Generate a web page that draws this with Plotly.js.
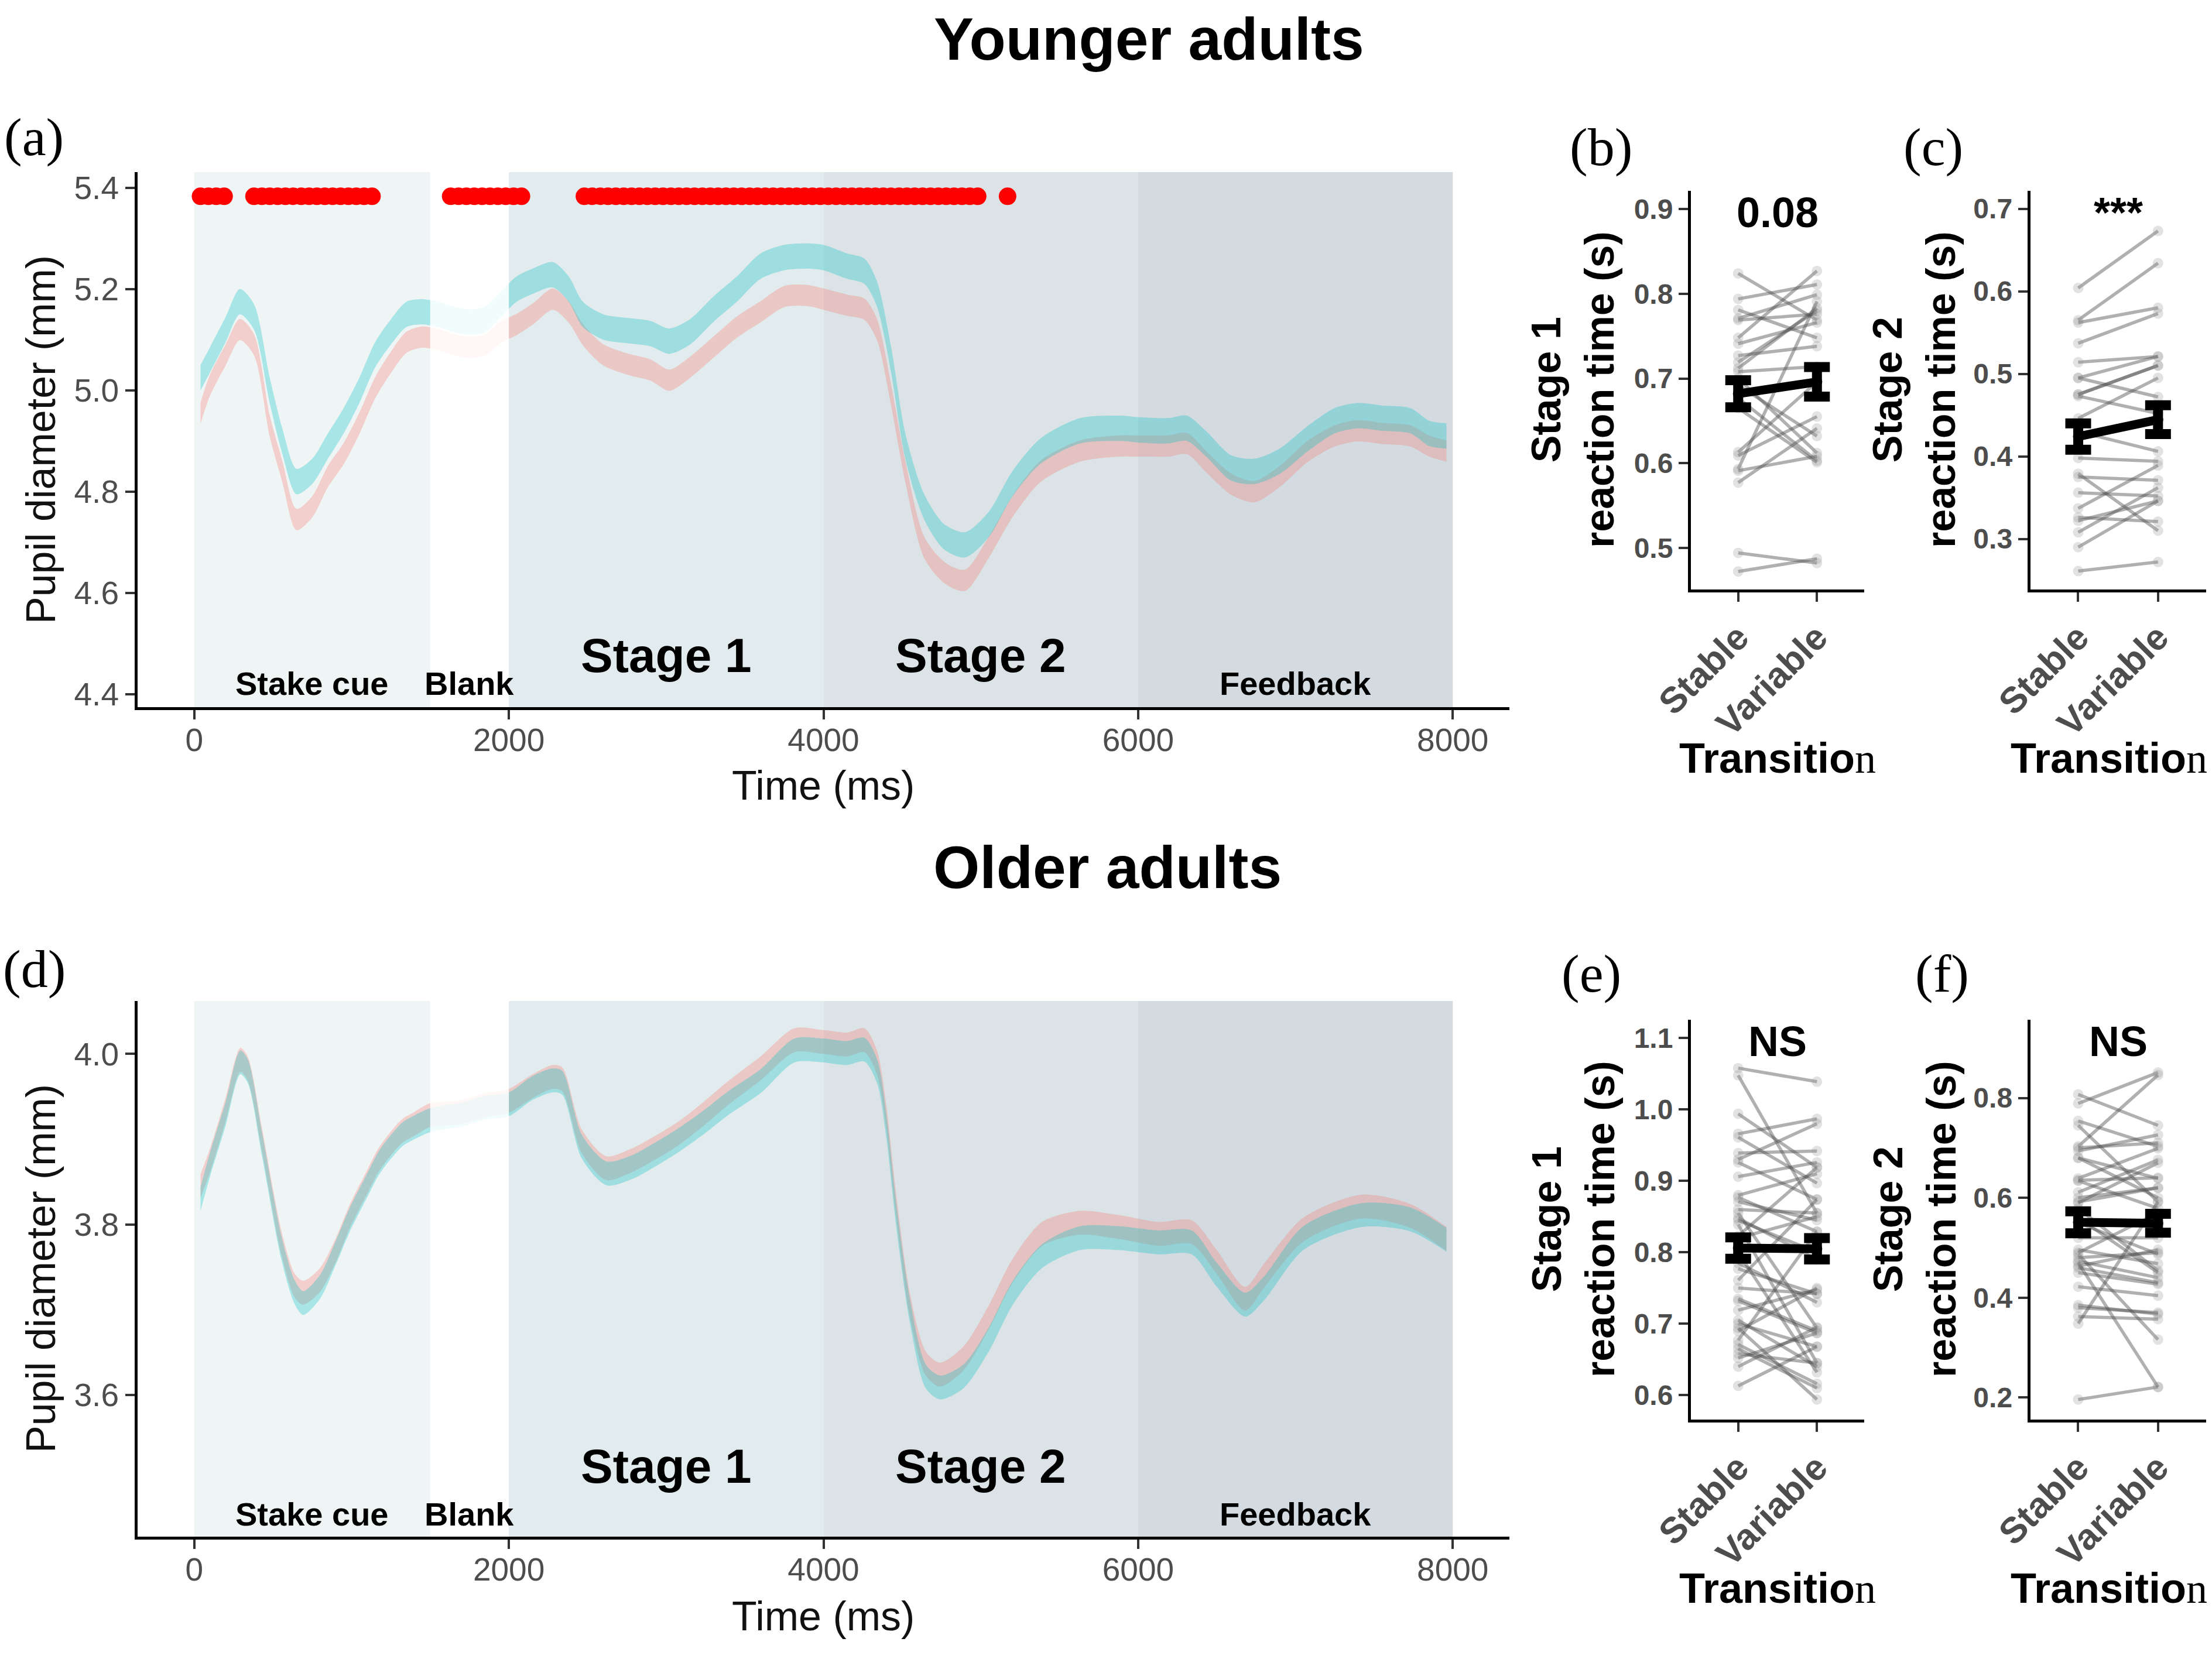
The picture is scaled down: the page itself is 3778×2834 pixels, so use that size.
<!DOCTYPE html>
<html><head><meta charset="utf-8">
<script src="https://cdn.plot.ly/plotly-3.0.1.min.js"></script>
<style>html,body{margin:0;padding:0;background:#fff;} #plot{width:3778px;height:2834px;}</style>
</head><body><div id="plot"></div>
<script>
// ================= DATA =================
// Panel (a) Younger adults: pupil diameter (mm) over time (ms)
const timeA = [40,100,200,290,380,480,560,650,750,850,950,1050,1150,1250,1350,1450,1550,1650,1750,1850,1950,2050,2150,2280,2380,2470,2600,2750,2900,3020,3150,3300,3450,3600,3750,3900,4000,4150,4260,4340,4430,4520,4640,4770,4900,5050,5200,5380,5630,5880,6000,6190,6310,6430,6590,6740,6900,7080,7250,7390,7550,7730,7850,7960];
const stableA = [4.955,5.01,5.07,5.12,5.09,4.93,4.84,4.745,4.77,4.83,4.875,4.935,5.005,5.055,5.095,5.105,5.10,5.09,5.085,5.09,5.115,5.13,5.15,5.18,5.155,5.11,5.07,5.052,5.04,5.02,5.045,5.085,5.125,5.155,5.185,5.187,5.18,5.168,5.16,5.12,4.99,4.84,4.69,4.64,4.625,4.69,4.77,4.84,4.88,4.89,4.89,4.89,4.895,4.86,4.815,4.80,4.83,4.88,4.91,4.92,4.915,4.91,4.89,4.88];
const variableA = [5.025,5.06,5.12,5.175,5.145,5.00,4.90,4.82,4.84,4.89,4.94,5.00,5.07,5.115,5.15,5.155,5.15,5.14,5.135,5.14,5.17,5.20,5.215,5.228,5.20,5.15,5.125,5.118,5.112,5.097,5.115,5.16,5.20,5.245,5.262,5.265,5.262,5.245,5.235,5.19,5.06,4.89,4.77,4.71,4.695,4.735,4.815,4.88,4.92,4.925,4.922,4.92,4.925,4.895,4.847,4.84,4.86,4.905,4.94,4.95,4.945,4.94,4.915,4.91];
const ciStableA = 0.021;
const ciVariableA = 0.025;
// significant time points (ms), panel (a)
const sigTimesA = [40,90,140,190,
  380,430,480,530,580,630,680,730,780,830,880,930,980,1030,1080,1130,
  1630,1680,1730,1780,1830,1880,1930,1980,2030,2080,
  2480,2530,2580,2630,2680,2730,2780,2830,2880,2930,2980,3030,3080,3130,3180,3230,3280,3330,3380,3430,3480,3530,3580,3630,3680,3730,3780,3830,3880,3930,3980,4030,4080,4130,4180,4230,4280,4330,4380,4430,4480,4530,4580,4630,4680,4730,4780,4830,4880,4930,4980,
  5170];
const sigLevelA = 5.383;

// Panel (d) Older adults
const timeD = [40,100,200,293,340,430,555,640,693,800,900,990,1100,1170,1250,1325,1400,1495,1600,1700,1850,2000,2150,2280,2340,2465,2620,2780,2930,3080,3240,3400,3600,3815,4000,4150,4260,4340,4400,4460,4550,4650,4740,4890,5050,5200,5390,5630,5880,6130,6340,6500,6680,6800,7050,7420,7730,7960];
const stableD = [3.845,3.875,3.935,3.993,3.983,3.90,3.778,3.728,3.72,3.735,3.77,3.81,3.85,3.875,3.895,3.91,3.918,3.928,3.93,3.932,3.94,3.945,3.962,3.973,3.97,3.897,3.866,3.875,3.89,3.907,3.93,3.955,3.983,4.016,4.014,4.011,4.016,3.99,3.925,3.825,3.705,3.637,3.624,3.643,3.691,3.745,3.789,3.802,3.797,3.789,3.791,3.756,3.713,3.74,3.794,3.821,3.81,3.783];
const variableD = [3.83,3.87,3.93,3.99,3.98,3.895,3.772,3.72,3.708,3.727,3.767,3.806,3.846,3.871,3.891,3.906,3.914,3.922,3.926,3.929,3.937,3.941,3.96,3.969,3.966,3.891,3.86,3.867,3.882,3.899,3.92,3.943,3.968,4.004,4.004,4.001,4.005,3.98,3.915,3.815,3.698,3.622,3.609,3.622,3.665,3.719,3.763,3.784,3.784,3.779,3.779,3.741,3.706,3.725,3.784,3.811,3.806,3.782];
const ciStableD = 0.014;
const ciVariableD = 0.014;

// Trial phases
const phaseNames = ['Stake cue','Blank','Stage 1','Stage 2','Feedback'];
const phaseStart = [0,1500,2000,4000,6000];
const phaseEnd = [1500,2000,4000,6000,8000];
const phaseColors = ['#eff5f5', null, '#e2ebed', '#dbe3e6', '#d3dbe1'];

// Reaction-time panels
const transitions = ['Stable','Variable'];
// (b) younger, stage 1
const rtB_stable   = [0.824,0.794,0.781,0.771,0.769,0.748,0.741,0.727,0.719,0.712,0.708,0.700,0.692,0.677,0.665,0.613,0.609,0.593,0.591,0.577,0.494,0.472];
const rtB_variable = [0.769,0.811,0.748,0.799,0.776,0.827,0.766,0.738,0.780,0.783,0.714,0.612,0.632,0.603,0.601,0.696,0.655,0.791,0.608,0.641,0.482,0.487];
const meanB = [0.682,0.696]; const seB = [0.016,0.0175]; const sigB = '0.08';
// (c) younger, stage 2
const rtC_stable   = [0.604,0.565,0.562,0.537,0.514,0.495,0.475,0.473,0.446,0.430,0.398,0.379,0.375,0.356,0.337,0.326,0.322,0.308,0.290,0.261,0.495,0.475];
const rtC_variable = [0.673,0.634,0.580,0.573,0.521,0.472,0.510,0.452,0.495,0.406,0.394,0.310,0.371,0.352,0.389,0.321,0.346,0.362,0.346,0.272,0.521,0.510];
const meanC = [0.424,0.4445]; const seC = [0.016,0.0175]; const sigC = '***';
// (e) older, stage 1
const rtE_stable   = [1.058,1.048,0.994,0.966,0.961,0.939,0.926,0.906,0.877,0.871,0.855,0.848,0.839,0.823,0.800,0.777,0.761,0.732,0.719,0.700,0.694,0.677,0.671,0.658,0.652,0.613,0.860,0.750,0.880,0.845,0.820,0.785,0.735,0.705,0.690,0.665,0.640,0.930];
const rtE_variable = [1.039,0.855,0.919,0.987,0.897,0.942,0.874,0.926,0.829,0.845,0.694,0.790,0.645,0.919,0.632,0.742,0.874,0.687,0.748,0.668,0.594,0.829,0.616,0.645,0.687,0.668,0.855,0.742,0.910,0.800,0.850,0.730,0.690,0.640,0.750,0.610,0.695,0.980];
const meanE = [0.806,0.805]; const seE = [0.015,0.015]; const sigE = 'NS';
// (f) older, stage 2
const rtF_stable   = [0.807,0.789,0.754,0.745,0.703,0.694,0.680,0.639,0.634,0.611,0.592,0.579,0.550,0.496,0.487,0.473,0.463,0.450,0.422,0.385,0.362,0.348,0.196,0.520,0.600,0.700,0.680,0.635,0.590,0.560,0.490,0.480,0.460,0.380,0.470];
const rtF_variable = [0.745,0.851,0.703,0.592,0.846,0.726,0.639,0.699,0.579,0.676,0.620,0.454,0.487,0.468,0.316,0.440,0.496,0.427,0.404,0.367,0.357,0.592,0.221,0.520,0.620,0.710,0.600,0.640,0.670,0.450,0.570,0.490,0.430,0.370,0.221];
const meanF = [0.551,0.549]; const seF = [0.022,0.019]; const sigF = 'NS';

// ================= BUILD =================
const W = 3778, H = 2834;
const px = v => v / W;          // x pixel -> paper
const py = v => 1 - v / H;      // y pixel (from top) -> paper
const SANS = 'Liberation Sans, Arial, sans-serif';
const SERIF = 'Liberation Serif, Times New Roman, serif';
const PINK = 'rgba(248,118,109,0.3)';
const CYAN = 'rgba(0,191,196,0.3)';

const data = [];
function ribbon(t, m, ci, fill, xa, ya, name) {
  data.push({x: t, y: m.map(v => v - ci), xaxis: xa, yaxis: ya, mode: 'lines',
    line: {width: 0, shape: 'spline', smoothing: 0.8}, hoverinfo: 'skip', showlegend: false});
  data.push({x: t, y: m.map(v => v + ci), xaxis: xa, yaxis: ya, mode: 'lines', name: name,
    line: {width: 0, shape: 'spline', smoothing: 0.8}, fill: 'tonexty', fillcolor: fill, showlegend: false});
}
const rangeA = [4.3746, 5.4307], rangeD = [3.434, 4.062];
function blankVeil(xa, ya, yr) {
  const b = phaseNames.indexOf('Blank');
  data.push({x: [phaseStart[b], phaseEnd[b], phaseEnd[b], phaseStart[b], phaseStart[b]],
    y: [yr[0], yr[0], yr[1], yr[1], yr[0]], xaxis: xa, yaxis: ya, mode: 'lines',
    line: {width: 0}, fill: 'toself', fillcolor: 'rgba(255,255,255,0.82)', hoverinfo: 'skip', showlegend: false});
}
ribbon(timeA, stableA, ciStableA, PINK, 'x', 'y', 'Stable');
ribbon(timeA, variableA, ciVariableA, CYAN, 'x', 'y', 'Variable');
blankVeil('x', 'y', rangeA);
data.push({x: sigTimesA, y: sigTimesA.map(() => sigLevelA), xaxis: 'x', yaxis: 'y', mode: 'markers',
  marker: {size: 30, color: '#ff0000', line: {width: 0}}, showlegend: false});
ribbon(timeD, stableD, ciStableD, PINK, 'x4', 'y4', 'Stable');
ribbon(timeD, variableD, ciVariableD, CYAN, 'x4', 'y4', 'Variable');
blankVeil('x4', 'y4', rangeD);

function rtPanel(s, v, mean, se, xa, ya) {
  for (let i = 0; i < s.length; i++) {
    data.push({x: transitions, y: [s[i], v[i]], xaxis: xa, yaxis: ya, mode: 'lines+markers',
      line: {color: 'rgba(80,80,80,0.45)', width: 5.5},
      marker: {size: 18, color: 'rgba(150,150,150,0.28)', line: {width: 0}}, showlegend: false});
  }
  data.push({x: transitions, y: mean, xaxis: xa, yaxis: ya, mode: 'lines+markers',
    line: {color: '#000', width: 15}, marker: {size: 18, color: '#000'},
    error_y: {type: 'data', array: se, visible: true, color: '#000', thickness: 17, width: 22},
    showlegend: false});
}
rtPanel(rtB_stable, rtB_variable, meanB, seB, 'x2', 'y2');
rtPanel(rtC_stable, rtC_variable, meanC, seC, 'x3', 'y3');
rtPanel(rtE_stable, rtE_variable, meanE, seE, 'x5', 'y5');
rtPanel(rtF_stable, rtF_variable, meanF, seF, 'x6', 'y6');

// ---- layout ----
const axLine = {showline: true, linecolor: '#000', linewidth: 5, ticks: 'outside', ticklen: 16,
  tickwidth: 4, tickcolor: '#333', showgrid: false, zeroline: false, fixedrange: true};
const timeTick = {size: 55, color: '#4d4d4d', family: SANS};
const rtTickY = {size: 48, color: '#4d4d4d', family: SANS, weight: 'bold'};
const rtTickX = {size: 62, color: '#4d4d4d', family: SANS, weight: 'bold'};

const xTime = d => Object.assign({}, axLine, {domain: d, range: [-360, 8360], tick0: 0, dtick: 2000,
  tickfont: timeTick, ticklabelstandoff: -12});
const xRT = (d, anchor) => Object.assign({}, axLine, {domain: d, anchor: anchor, type: 'category',
  categoryorder: 'array', categoryarray: transitions, range: [-0.6, 1.6], tickangle: -45, tickfont: rtTickX});
const yAx = (d, anchor, r, dt, tf) => Object.assign({}, axLine, {domain: d, anchor: anchor, range: r,
  tick0: 0, dtick: dt, tickformat: '.1f', tickfont: tf});

const domXA = [px(235), px(2578)];
const domXB = [px(2888), px(3184)];
const domXC = [px(3467.7), px(3767.6)];
const domYA = [py(1208), py(294)];
const domYD = [py(2625), py(1710)];
const domYB = [py(1006.6), py(325.5)];
const domYE = [py(2424.8), py(1741.7)];

const layout = {
  width: W, height: H, margin: {l: 0, r: 0, t: 0, b: 0}, paper_bgcolor: '#fff', plot_bgcolor: 'rgba(0,0,0,0)',
  showlegend: false, font: {family: SANS, color: '#000'},
  xaxis: Object.assign(xTime(domXA), {anchor: 'y'}),
  yaxis: yAx(domYA, 'x', rangeA, 0.2, timeTick),
  xaxis4: Object.assign(xTime(domXA), {anchor: 'y4'}),
  yaxis4: yAx(domYD, 'x4', rangeD, 0.2, timeTick),
  xaxis2: xRT(domXB, 'y2'), yaxis2: yAx(domYB, 'x2', [0.451, 0.922], 0.1, rtTickY),
  xaxis3: xRT(domXC, 'y3'), yaxis3: yAx(domYB, 'x3', [0.239, 0.722], 0.1, rtTickY),
  xaxis5: xRT(domXB, 'y5'), yaxis5: yAx(domYE, 'x5', [0.566, 1.126], 0.1, rtTickY),
  xaxis6: xRT(domXC, 'y6'), yaxis6: yAx(domYE, 'x6', [0.156, 0.957], 0.2, rtTickY),
  shapes: [], annotations: []
};

// phase backgrounds + labels
[['x', 'y', 0.097, 0.044], ['x4', 'y4', 0.132, 0.042]].forEach(([xa, ya, bigY, smallY]) => {
  phaseNames.forEach((nm, i) => {
    if (phaseColors[i]) layout.shapes.push({type: 'rect', xref: xa, yref: ya + ' domain', x0: phaseStart[i], x1: phaseEnd[i],
      y0: 0, y1: 1, fillcolor: phaseColors[i], line: {width: 0}, layer: 'below'});
    const big = nm.indexOf('Stage') === 0;
    layout.annotations.push({xref: xa, yref: ya + ' domain', x: (phaseStart[i] + phaseEnd[i]) / 2, y: big ? bigY : smallY,
      text: nm, showarrow: false, xanchor: 'center', yanchor: 'middle',
      font: {family: SANS, size: big ? 82 : 56, weight: 'bold', color: '#000'}});
  });
});

const A = (x, y, text, font, extra) => layout.annotations.push(Object.assign({xref: 'paper', yref: 'paper', x: x, y: y, text: text,
  showarrow: false, xanchor: 'center', yanchor: 'middle', font: font}, extra || {}));

// titles
A(px(1963), py(67), 'Younger adults', {family: SANS, size: 102, weight: 'bold', color: '#000'});
A(px(1891), py(1482), 'Older adults', {family: SANS, size: 102, weight: 'bold', color: '#000'});
// panel letters
const letterFont = {family: SERIF, size: 92, color: '#000'};
A(px(58), py(234), '(a)', letterFont);
A(px(58), py(1655), '(d)', letterFont);
A(px(2734), py(251), '(b)', letterFont);
A(px(3302), py(251), '(c)', letterFont);
A(px(2718), py(1663), '(e)', letterFont);
A(px(3317), py(1663), '(f)', letterFont);
// axis titles (time panels)
const axT = {family: SANS, size: 70, color: '#111'};
A(px(70), py(751), 'Pupil diameter (mm)', axT, {textangle: -90});
A(px(70), py(2167), 'Pupil diameter (mm)', axT, {textangle: -90});
A(px(1406), py(1342), 'Time (ms)', axT);
A(px(1406), py(2761), 'Time (ms)', axT);
// axis titles (RT panels)
const rtT = {family: SANS, size: 70, weight: 'bold', color: '#000'};
A(px(2687), py(666), 'Stage 1<br>reaction time (s)', rtT, {textangle: -90});
A(px(3270), py(666), 'Stage 2<br>reaction time (s)', rtT, {textangle: -90});
A(px(2687), py(2083), 'Stage 1<br>reaction time (s)', rtT, {textangle: -90});
A(px(3270), py(2083), 'Stage 2<br>reaction time (s)', rtT, {textangle: -90});
const trText = 'Transitio<span style="font-family:\'Liberation Serif\',serif;font-weight:normal">n</span>';
const trFont = {family: SANS, size: 72, weight: 'bold', color: '#000'};
A(px(3036), py(1295), trText, trFont);
A(px(3602), py(1295), trText, trFont);
A(px(3036), py(2713), trText, trFont);
A(px(3602), py(2713), trText, trFont);
// significance labels
const sigFont = {family: SANS, size: 72, weight: 'bold', color: '#000'};
[['x2', 'y2', sigB], ['x3', 'y3', sigC], ['x5', 'y5', sigE], ['x6', 'y6', sigF]].forEach(([xa, ya, t]) => {
  layout.annotations.push({xref: xa, yref: ya + ' domain', x: 0.5, y: 0.945, text: t, showarrow: false,
    xanchor: 'center', yanchor: 'middle', font: sigFont});
});

Plotly.newPlot('plot', data, layout, {staticPlot: true, displayModeBar: false});
</script></body></html>
